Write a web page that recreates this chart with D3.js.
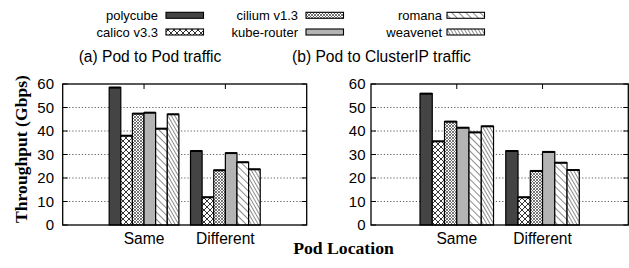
<!DOCTYPE html>
<html><head><meta charset="utf-8">
<script src="https://cdn.jsdelivr.net/npm/d3@7"></script>
<style>body{margin:0;background:#fff}</style>
</head><body>
<svg id="c" width="629" height="268" xmlns="http://www.w3.org/2000/svg"></svg>
<script>
// ---- data ----
const categories = ["Same", "Different"];
const seriesNames = ["polycube", "calico v3.3", "cilium v1.3", "kube-router", "romana", "weavenet"];
const podToPodSame = [58.5, 38.0, 47.4, 47.8, 41.0, 47.1];
const podToPodDifferent = [31.5, 11.8, 23.3, 30.6, 26.7, 23.7];
const clusterIPSame = [55.9, 35.6, 44.0, 41.4, 39.4, 42.0];
const clusterIPDifferent = [31.5, 11.8, 23.0, 31.1, 26.5, 23.4];
const yTicks = [0, 10, 20, 30, 40, 50, 60];
const panelTitles = ["(a) Pod to Pod traffic", "(b) Pod to ClusterIP traffic"];

const svg = d3.select("#c");
const SANS = "'Liberation Sans', Arial, Helvetica, sans-serif";
const SERIF = "'Liberation Serif', 'Times New Roman', serif";

// ---- patterns ----
const defs = svg.append("defs");
function hatch(id, spacing, angle, sw) {
  const p = defs.append("pattern").attr("id", id).attr("patternUnits", "userSpaceOnUse")
    .attr("width", spacing).attr("height", 10).attr("patternTransform", `rotate(${angle})`);
  p.append("rect").attr("width", spacing).attr("height", 10).attr("fill", "#fff");
  p.append("line").attr("x1", 0).attr("y1", 0).attr("x2", 0).attr("y2", 10)
    .attr("stroke", "#000").attr("stroke-width", sw);
}
function cross(id, size, color, sw) {
  const p = defs.append("pattern").attr("id", id).attr("patternUnits", "userSpaceOnUse")
    .attr("width", size).attr("height", size);
  p.append("rect").attr("width", size).attr("height", size).attr("fill", "#fff");
  p.append("path").attr("d", `M0,0L${size},${size}M${size},0L0,${size}`)
    .attr("stroke", color).attr("stroke-width", sw).attr("fill", "none");
}
cross("pCalico", 6, "#000", 0.8);
cross("pCilium", 3, "#555", 0.8);
hatch("pRomana", 5, -45, 0.9);
hatch("pWeave", 3, -30, 0.9);
const fills = ["#444444", "url(#pCalico)", "url(#pCilium)", "#b4b4b4", "url(#pRomana)", "url(#pWeave)"];

// ---- panels ----
const yTop = 84, yBot = 225;
const panels = [
  { x0: 62.7, x1: 306.7, data: [podToPodSame, podToPodDifferent], title: panelTitles[0], tx: 150, labelRight: 54 },
  { x0: 371, x1: 628.3, data: [clusterIPSame, clusterIPDifferent], title: panelTitles[1], tx: 381.5, labelRight: 365.5 }
];
const y = d3.scaleLinear().domain([0, 60]).range([yBot, yTop]);

panels.forEach(pn => {
  const x = d3.scaleLinear().domain([-1, 2]).range([pn.x0, pn.x1]);
  const unit = x(1) - x(0);
  const bw = unit / 7;
  const g = svg.append("g");

  // grid
  g.selectAll("line.grid").data(yTicks.filter(t => t > 0 && t < 60)).enter().append("line")
    .attr("x1", pn.x0).attr("x2", pn.x1).attr("y1", d => y(d)).attr("y2", d => y(d))
    .attr("stroke", "#333").attr("stroke-width", 0.8).attr("stroke-dasharray", "1.2,2");

  // bars
  categories.forEach((c, ci) => {
    pn.data[ci].forEach((v, si) => {
      const bx = x(ci) + (si - 3) * bw;
      g.append("rect").attr("x", bx).attr("y", y(v)).attr("width", bw).attr("height", yBot - y(v))
        .attr("fill", fills[si]).attr("stroke", "#000").attr("stroke-width", 1.2);
      g.append("line").attr("x1", bx).attr("x2", bx + bw).attr("y1", y(v)).attr("y2", y(v))
        .attr("stroke", "#000").attr("stroke-width", 2);
    });
  });

  // ticks
  yTicks.forEach(t => {
    g.append("line").attr("x1", pn.x0).attr("x2", pn.x0 + 5).attr("y1", y(t)).attr("y2", y(t)).attr("stroke", "#000");
    g.append("line").attr("x1", pn.x1).attr("x2", pn.x1 - 5).attr("y1", y(t)).attr("y2", y(t)).attr("stroke", "#000");
  });
  categories.forEach((c, ci) => {
    g.append("line").attr("x1", x(ci)).attr("x2", x(ci)).attr("y1", yTop).attr("y2", yTop + 5).attr("stroke", "#000");
  });

  // frame
  g.append("rect").attr("x", pn.x0).attr("y", yTop).attr("width", pn.x1 - pn.x0).attr("height", yBot - yTop)
    .attr("fill", "none").attr("stroke", "#000").attr("stroke-width", 1.3);

  // y labels
  g.selectAll("text.yl").data(yTicks).enter().append("text")
    .attr("x", pn.labelRight).attr("y", d => y(d) + 5.3).attr("text-anchor", "end")
    .attr("font-family", SANS).attr("font-size", 15).text(d => d);

  // x labels
  g.selectAll("text.xl").data(categories).enter().append("text")
    .attr("x", (d, i) => x(i)).attr("y", 243.5).attr("text-anchor", "middle")
    .attr("font-family", SANS).attr("font-size", 15.6).text(d => d);

  // title
  svg.append("text").attr("x", pn.tx).attr("y", 62).attr("text-anchor", "middle")
    .attr("font-family", SANS).attr("font-size", 15.6).text(pn.title);
});

// axis titles
svg.append("text").attr("transform", "translate(27,149) rotate(-90)").attr("text-anchor", "middle")
  .attr("font-family", SERIF).attr("font-weight", "bold").attr("font-size", 17.6).text("Throughput (Gbps)");
svg.append("text").attr("x", 343.5).attr("y", 254).attr("text-anchor", "middle")
  .attr("font-family", SERIF).attr("font-weight", "bold").attr("font-size", 17.7).text("Pod Location");

// legend
const legendCols = [{ textEnd: 158, sx: 166 }, { textEnd: 298, sx: 306 }, { textEnd: 442, sx: 447 }];
const legendRows = [15.3, 32];
seriesNames.forEach((name, i) => {
  const col = legendCols[Math.floor(i / 2)], rowY = legendRows[i % 2];
  svg.append("text").attr("x", col.textEnd).attr("y", rowY + 4.6).attr("text-anchor", "end")
    .attr("font-family", SANS).attr("font-size", 13).text(name);
  svg.append("rect").attr("x", col.sx).attr("y", rowY - 3).attr("width", 37.5).attr("height", 6)
    .attr("fill", fills[i]).attr("stroke", "#000").attr("stroke-width", 1.1);
});
</script>
</body></html>
